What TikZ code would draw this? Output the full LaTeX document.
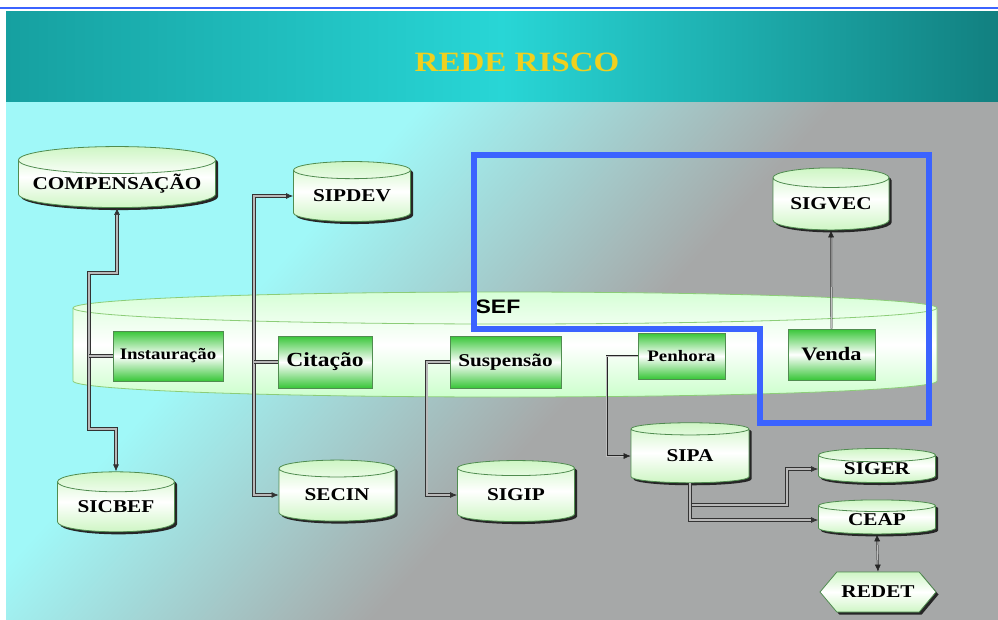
\documentclass[tikz,border=0pt]{standalone}
\usepackage{fontspec}
\setmainfont{Liberation Serif}[FakeStretch=1.18]
\setsansfont{Liberation Sans}[FakeStretch=1.18]
\usetikzlibrary{positioning,arrows.meta,shapes.geometric,shapes.symbols,shadows}
\definecolor{headteal}{RGB}{22,160,160}
\definecolor{headlight}{RGB}{40,214,214}
\definecolor{bgcyan}{RGB}{160,248,248}
\definecolor{bggray}{RGB}{166,168,168}
\definecolor{dbgreen}{RGB}{206,246,196}
\definecolor{dbedge}{RGB}{80,140,80}
\definecolor{procgreen}{RGB}{56,198,56}
\definecolor{sefedge}{RGB}{140,205,120}
\definecolor{markblue}{RGB}{59,99,255}
\definecolor{titlegold}{RGB}{240,208,30}
\pgfdeclareverticalshading{slidebg}{100bp}{color(0bp)=(bggray); color(45bp)=(bggray); color(65bp)=(bgcyan); color(100bp)=(bgcyan)}

\begin{document}
\begin{tikzpicture}[x=1pt,y=-1pt,
  db/.style={cylinder,shape border rotate=90,draw=dbedge,line width=0.8pt,
        top color=dbgreen,bottom color=dbgreen,middle color=white,
        drop shadow={shadow xshift=2.5pt,shadow yshift=-2.5pt,fill=black!85,opacity=1},
        font=\fontsize{18}{20}\selectfont\bfseries,inner sep=0pt},
  proc/.style={rectangle,draw=dbedge,line width=0.6pt,
        top color=procgreen,bottom color=procgreen,middle color=white,inner sep=0pt},
  conn/.style={draw=black!80,double=gray!55,double distance=1.8pt,line width=0.7pt},
  thinconn/.style={draw=black!85,double=gray!50,double distance=0.9pt,line width=0.5pt},
  >={Latex[length=7pt,width=6pt]}
]
\useasboundingbox (0,0) rectangle (998,619);
% slide background
\fill[white] (0,0) rectangle (998,619);
\shade[shading=slidebg,shading angle=48] (6,100) rectangle (998,619);
\shade[left color=headteal,right color=headteal!80!black,middle color=headlight] (6,11) rectangle (998,101);
\draw[markblue,line width=1.5pt] (0,8) -- (998,8);
\node[text=titlegold,font=\fontsize{28}{30}\selectfont\bfseries] (title) at (517,62) {REDE RISCO};

% SEF drum
\shade[draw=sefedge,line width=0.8pt,top color=green!16,bottom color=green!20,middle color=white]
  (73,308) -- (73,381) arc[start angle=180,end angle=0,x radius=432,y radius=16]
  -- (937,308) arc[start angle=0,end angle=-180,x radius=432,y radius=16] -- cycle;
\draw[sefedge,line width=0.8pt] (73,308) arc[start angle=180,end angle=0,x radius=432,y radius=16];
\node[font=\fontsize{19.5}{20}\selectfont\sffamily\bfseries] (sef) at (498,307) {SEF};

\node[proc,minimum width=110pt,minimum height=50pt,font=\fontsize{16}{18}\selectfont\bfseries] (inst) at (168,356) {Instauração};
\node[proc,minimum width=94pt,minimum height=52pt,font=\fontsize{20}{22}\selectfont\bfseries] (cit) at (325,362) {Citação};
\node[proc,minimum width=111pt,minimum height=52pt,font=\fontsize{18}{20}\selectfont\bfseries] (susp) at (505.5,362) {Suspensão};
\node[proc,minimum width=87pt,minimum height=46pt,font=\fontsize{16}{18}\selectfont\bfseries] (penh) at (681.5,356) {Penhora};
\node[proc,minimum width=87pt,minimum height=51pt,font=\fontsize{19}{21}\selectfont\bfseries] (venda) at (831.5,354.5) {Venda};

% databases
\node[db,aspect=0.16,minimum width=197pt,minimum height=61pt] (comp) at (117,184) {COMPENSAÇÃO};
\node[db,aspect=0.22,minimum width=117pt,minimum height=60pt] (sipdev) at (352,196) {SIPDEV};
\node[db,aspect=0.24,minimum width=116pt,minimum height=62pt] (sigvec) at (831,204) {SIGVEC};
\node[db,aspect=0.26,minimum width=117pt,minimum height=60pt] (sicbef) at (116,507) {SICBEF};
\node[db,aspect=0.26,minimum width=116pt,minimum height=61pt] (secin) at (337,495) {SECIN};
\node[db,aspect=0.26,minimum width=117pt,minimum height=61pt] (sigip) at (516,495) {SIGIP};
\node[db,aspect=0.26,minimum width=118pt,minimum height=60pt] (sipa) at (690,456) {SIPA};
\node[db,aspect=0.2,minimum width=117pt,minimum height=34pt] (siger) at (877,469) {SIGER};
\node[db,aspect=0.2,minimum width=117pt,minimum height=34pt] (ceap) at (877,520) {CEAP};
\node[db,signal,signal to=east and west,signal pointer angle=100,
      minimum width=116pt,minimum height=40pt] (redet) at (878,592) {REDET};

% connectors
\coordinate (ltop) at (89,273);
\coordinate (lbot) at (89,429);
\coordinate (cbus) at (254,350);
\coordinate (sj) at (787,505);
\draw[conn,<->] (comp.south) |- (ltop) -- (lbot) -| (sicbef.north);
\draw[conn] (inst.west) -- (inst.west -| ltop);
\draw[conn,<->] (sipdev.west) -| (cbus) |- (secin.west);
\draw[conn] (cit.west) -- (cit.west -| cbus);
\draw[conn,->] (susp.west) -- ++(-23,0) |- (sigip.west);
\draw[thinconn,->] (penh.west) -- ++(-31,0) |- (sipa.west);
\draw[thinconn,->] (venda.north) -- (sigvec.south);
\draw[conn,->] (sipa.south) |- (sj) |- (siger.west);
\draw[conn,->] (sipa.south) |- (ceap.west);
\draw[thinconn,<->] (ceap.south) -- (redet.north);

% highlight
\draw[markblue,line width=6pt] (474,155) -- (929,155) -- (929,423) -- (760,423) -- (760,329) -- (474,329) -- cycle;
\end{tikzpicture}
\end{document}
